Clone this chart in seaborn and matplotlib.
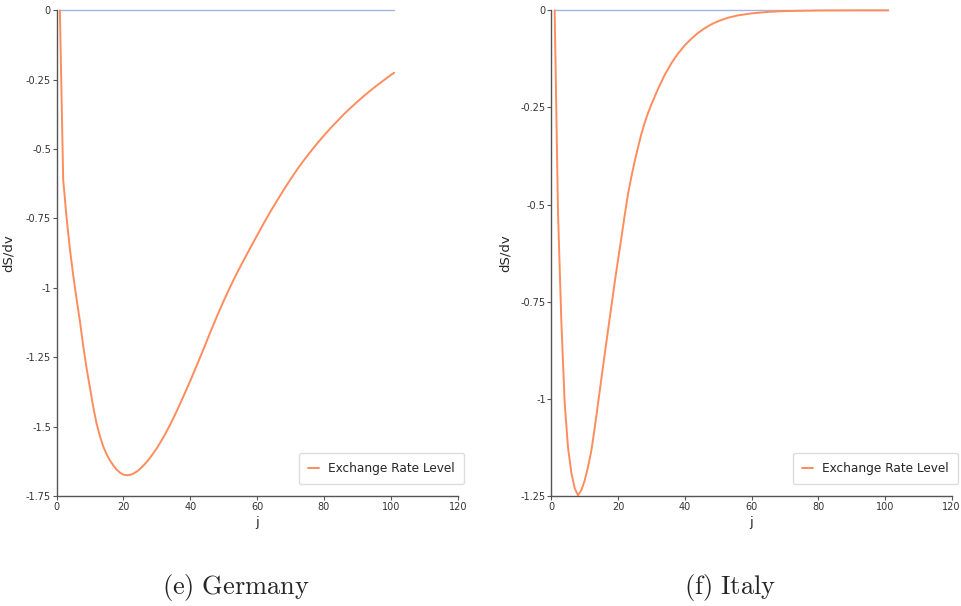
import numpy as np
import pandas as pd
import matplotlib
matplotlib.use("Agg")
import matplotlib.pyplot as plt
from matplotlib.ticker import FuncFormatter, MultipleLocator
import seaborn as sns

# ---- data ----
germany_j = [1, 2, 3, 4, 5, 6, 7, 8, 9, 10, 11, 12, 13, 14, 15, 16, 17, 18, 19, 20,
             21, 22, 23, 24, 25, 26, 27, 28, 30, 32, 34, 36, 38, 40, 42, 44, 46, 48,
             50, 52, 54, 56, 58, 60, 62, 64, 66, 68, 70, 72, 74, 76, 78, 80, 82, 84,
             86, 88, 90, 92, 94, 96, 98, 100, 101]
germany_v = [0, -0.61, -0.745, -0.86, -0.955, -1.04, -1.12, -1.21, -1.29, -1.36,
             -1.43, -1.49, -1.535, -1.572, -1.60, -1.622, -1.64, -1.655, -1.666,
             -1.673, -1.675, -1.674, -1.669, -1.662, -1.652, -1.64, -1.627, -1.612,
             -1.578, -1.538, -1.493, -1.443, -1.39, -1.335, -1.278, -1.22, -1.16,
             -1.102, -1.047, -0.995, -0.946, -0.90, -0.855, -0.811, -0.767, -0.725,
             -0.685, -0.646, -0.609, -0.573, -0.540, -0.509, -0.479, -0.451, -0.424,
             -0.399, -0.374, -0.351, -0.329, -0.308, -0.288, -0.269, -0.251, -0.233,
             -0.225]

italy_j = [1, 2, 3, 4, 5, 6, 7, 8, 9, 10, 11, 12, 13, 14, 15, 16, 17, 18, 19, 20,
           21, 22, 23, 24, 25, 26, 27, 28, 29, 30, 32, 34, 36, 38, 40, 42, 44, 46,
           48, 50, 53, 56, 60, 65, 70, 80, 90, 101]
italy_v = [0, -0.52, -0.80, -1.01, -1.125, -1.19, -1.23, -1.248, -1.235, -1.21,
           -1.175, -1.133, -1.075, -1.012, -0.948, -0.885, -0.823, -0.762, -0.70,
           -0.642, -0.585, -0.527, -0.472, -0.428, -0.388, -0.352, -0.318, -0.289,
           -0.264, -0.242, -0.202, -0.166, -0.136, -0.111, -0.090, -0.073, -0.058,
           -0.046, -0.036, -0.028, -0.019, -0.013, -0.008, -0.004, -0.002, -0.0005,
           -0.0001, 0]

zero_j = [1, 101]
zero_v = [0, 0]

series_label = "Exchange Rate Level"
captions = [r"$\mathrm{(e)\ Germany}$", r"$\mathrm{(f)\ Italy}$"]
x_ticks = [0, 20, 40, 60, 80, 100, 120]

# ---- styling ----
sns.set_style("ticks")
plt.rcParams["font.family"] = ["DejaVu Sans"]
plt.rcParams["mathtext.fontset"] = "cm"

ORANGE = "#ff8c5c"
BLUE = "#a4b3e3"
AXC = "#555555"

fig = plt.figure(figsize=(9.61, 6.06), dpi=100)
ax1 = fig.add_axes([0.0588, 0.1815, 0.4175, 0.8015])
ax2 = fig.add_axes([0.5737, 0.1815, 0.4166, 0.8015])

panels = [
    (ax1, germany_j, germany_v, -1.75, -0.103, 0.2456),
    (ax2, italy_j, italy_v, -1.25, -0.099, 0.7596),
]

fmt = FuncFormatter(lambda v, p: "0" if abs(v) < 1e-9 else "{:g}".format(round(v, 4)))

for (ax, jj, vv, ymin, ylab_x, cap_x), cap in zip(panels, captions):
    sns.lineplot(x=zero_j, y=zero_v, ax=ax, color=BLUE, linewidth=1.0, legend=False)
    sns.lineplot(x=jj, y=vv, ax=ax, color=ORANGE, linewidth=1.4, label=series_label)
    for ln in ax.lines:
        ln.set_clip_on(False)
    ax.set_xlim(0, 120)
    ax.set_ylim(ymin, 0)
    ax.set_xticks(x_ticks)
    ax.yaxis.set_major_locator(MultipleLocator(0.25))
    ax.yaxis.set_major_formatter(fmt)
    sns.despine(ax=ax)
    for sp in ("left", "bottom"):
        ax.spines[sp].set_color(AXC)
        ax.spines[sp].set_linewidth(1.0)
    ax.tick_params(axis="both", labelsize=7, colors=AXC, labelcolor="#333333",
                   length=3, width=0.8, pad=1)
    ax.set_xlabel("j", fontsize=9.5, labelpad=3)
    ax.set_ylabel("dS/dv", fontsize=9.5)
    ax.yaxis.set_label_coords(ylab_x, 0.5)
    leg = ax.legend(loc="lower right", bbox_to_anchor=(1.016, 0.0247),
                    borderaxespad=0, fontsize=8.7, frameon=True, handlelength=0.9,
                    handletextpad=0.8, borderpad=0.75, fancybox=True)
    leg.get_frame().set_edgecolor("#dddddd")
    leg.get_frame().set_linewidth(1.0)
    leg.get_frame().set_alpha(1.0)
    fig.text(cap_x, 0.03, cap, ha="center", va="center", fontsize=19)

fig.savefig("out.png", dpi=100)
